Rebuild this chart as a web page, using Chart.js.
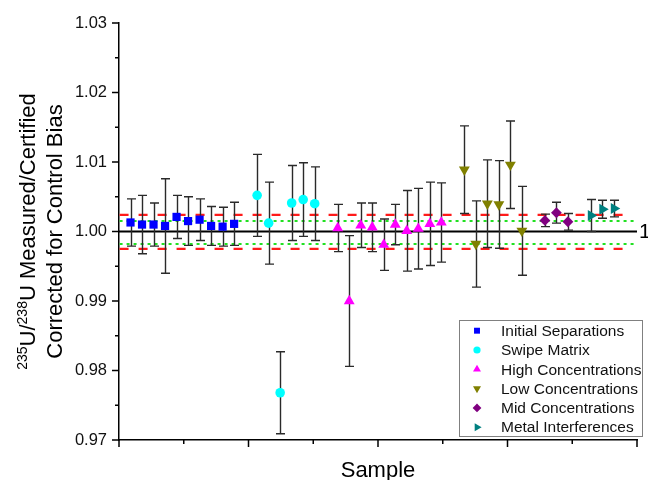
<!DOCTYPE html>
<html>
<head>
<meta charset="utf-8">
<script src="https://cdn.jsdelivr.net/npm/chart.js@4.4.0/dist/chart.umd.min.js"></script>
<style>
  html, body { margin: 0; padding: 0; background: #fff; }
</style>
</head>
<body>
<canvas id="c" width="648" height="480"></canvas>
<script>
  // series names (legend order)
  const seriesNames = [
    "Initial Separations",
    "Swipe Matrix",
    "High Concentrations",
    "Low Concentrations",
    "Mid Concentrations",
    "Metal Interferences",
  ];

  // sample number, ratio, +/- uncertainty for each group
  const initialSample = [1, 2, 3, 4, 5, 6, 7, 8, 9, 10];
  const initialRatio = [1.0013, 1.001, 1.001, 1.0008, 1.0021, 1.0015, 1.0017, 1.0008, 1.0007, 1.0011];
  const initialErr = [0.0034, 0.0042, 0.0031, 0.0068, 0.0031, 0.0035, 0.003, 0.0028, 0.0028, 0.0031];

  const swipeSample = [12, 13, 14, 15, 16, 17];
  const swipeRatio = [1.0052, 1.0012, 0.9768, 1.0041, 1.0046, 1.004];
  const swipeErr = [0.0059, 0.0059, 0.0059, 0.0054, 0.0053, 0.0053];

  const highSample = [19, 20, 21, 22, 23, 24, 25, 26, 27, 28];
  const highRatio = [1.0005, 0.99, 1.0009, 1.0006, 0.9981, 1.001, 1.0001, 1.0004, 1.0011, 1.0013];
  const highErr = [0.0034, 0.0094, 0.0032, 0.0035, 0.0037, 0.0029, 0.0058, 0.0058, 0.006, 0.0057];

  const lowSample = [30, 31, 32, 33, 34, 35];
  const lowRatio = [1.0089, 0.9982, 1.004, 1.0039, 1.0096, 1.0001];
  const lowErr = [0.0063, 0.0062, 0.0063, 0.0063, 0.0063, 0.0064];

  const midSample = [37, 38, 39];
  const midRatio = [1.0016, 1.0027, 1.0014];
  const midErr = [0.0009, 0.0015, 0.0012];

  const metalSample = [41, 42, 43];
  const metalRatio = [1.0023, 1.0032, 1.0033];
  const metalErr = [0.0023, 0.0013, 0.0012];

  // axes
  const yTicks = [0.97, 0.98, 0.99, 1.0, 1.01, 1.02, 1.03];
  const yMinorTicks = [0.975, 0.985, 0.995, 1.005, 1.015, 1.025];
  const xMajorTicks = [0, 11.25, 22.5, 33.75, 45];
  const xMinorTicks = [5.625, 16.875, 28.125, 39.375];

  // reference levels
  const unityLevel = 1.0;
  const redLimits = [1.0024, 0.9975];
  const greenLimits = [1.0015, 0.9982];

  const FONT = "'Liberation Sans', Arial, Helvetica, sans-serif";

  const groups = [
    { xs: initialSample, ys: initialRatio, err: initialErr, color: "#0000ff", style: "rect", rot: 0, r: 5.8, lr: 4.2 },
    { xs: swipeSample, ys: swipeRatio, err: swipeErr, color: "#00ffff", style: "circle", rot: 0, r: 4.8, lr: 3.6 },
    { xs: highSample, ys: highRatio, err: highErr, color: "#ff00ff", style: "triangle", rot: 0, r: 6.3, lr: 4.6 },
    { xs: lowSample, ys: lowRatio, err: lowErr, color: "#808000", style: "triangle", rot: 180, r: 6.3, lr: 4.6 },
    { xs: midSample, ys: midRatio, err: midErr, color: "#800080", style: "rectRot", rot: 0, r: 5.4, lr: 4.4 },
    { xs: metalSample, ys: metalRatio, err: metalErr, color: "#008080", style: "triangle", rot: 90, r: 6.3, lr: 4.6 },
  ];

  const datasets = groups.map((g, i) => ({
    label: seriesNames[i],
    data: g.xs.map((x, k) => ({ x, y: g.ys[k] })),
    errs: g.err,
    pointStyle: g.style,
    rotation: g.rot,
    pointRadius: g.r,
    pointHoverRadius: g.r,
    backgroundColor: g.color,
    borderColor: g.color,
    borderWidth: 0,
    showLine: false,
  }));

  const hLine = (chart, x0, y0, x1, color, width, dash) => {
    const y = chart.scales.y.getPixelForValue(y0);
    const x = chart.scales.x;
    const c = chart.ctx;
    c.save();
    c.strokeStyle = color;
    c.lineWidth = width;
    c.setLineDash(dash);
    c.beginPath();
    c.moveTo(x.getPixelForValue(x0), y);
    c.lineTo(x.getPixelForValue(x1), y);
    c.stroke();
    c.restore();
  };

  const decorations = {
    id: "decorations",
    beforeDatasetsDraw(chart) {
      redLimits.forEach((v) => hLine(chart, 0.05, v, 44.3, "#ff1a1a", 2.2, [9, 10]));
      greenLimits.forEach((v) => hLine(chart, 0.05, v, 44.9, "#22e022", 2, [3, 4]));
      hLine(chart, 0, unityLevel, 45, "#000", 2, []);

      // error bars
      const { x, y } = chart.scales;
      const c = chart.ctx;
      c.save();
      c.strokeStyle = "#2a2a2a";
      c.lineWidth = 1.4;
      chart.data.datasets.forEach((ds) => {
        ds.data.forEach((p, k) => {
          const e = ds.errs[k];
          const px = Math.round(x.getPixelForValue(p.x)) + 0.5;
          const top = y.getPixelForValue(p.y + e);
          const bot = y.getPixelForValue(p.y - e);
          c.beginPath();
          c.moveTo(px, top);
          c.lineTo(px, bot);
          c.moveTo(px - 4.5, top);
          c.lineTo(px + 4.5, top);
          c.moveTo(px - 4.5, bot);
          c.lineTo(px + 4.5, bot);
          c.stroke();
        });
      });
      c.restore();
    },
    afterDraw(chart) {
      const { x, y } = chart.scales;
      const c = chart.ctx;
      const area = chart.chartArea;
      c.save();
      c.strokeStyle = "#000";
      c.lineWidth = 1.5;
      c.beginPath();
      yTicks.forEach((v) => {
        const py = y.getPixelForValue(v);
        c.moveTo(area.left, py);
        c.lineTo(area.left - 7, py);
      });
      yMinorTicks.forEach((v) => {
        const py = y.getPixelForValue(v);
        c.moveTo(area.left, py);
        c.lineTo(area.left - 4, py);
      });
      xMajorTicks.forEach((v) => {
        const px = x.getPixelForValue(v);
        c.moveTo(px, area.bottom);
        c.lineTo(px, area.bottom + 7);
      });
      xMinorTicks.forEach((v) => {
        const px = x.getPixelForValue(v);
        c.moveTo(px, area.bottom);
        c.lineTo(px, area.bottom + 4);
      });
      c.stroke();

      // "1" label at end of unity line
      c.fillStyle = "#000";
      c.font = `21px ${FONT}`;
      c.textAlign = "left";
      c.textBaseline = "middle";
      c.fillText("1", area.right + 2, y.getPixelForValue(unityLevel) + 1);

      // x title
      c.font = `22px ${FONT}`;
      c.textAlign = "center";
      c.textBaseline = "alphabetic";
      c.fillText("Sample", (area.left + area.right) / 2, 477);

      // y title (two lines, rotated, with superscripts)
      const cy = (area.top + area.bottom) / 2;
      c.translate(0, cy);
      c.rotate(-Math.PI / 2);
      const big = `22px ${FONT}`;
      const sup = `14px ${FONT}`;
      const parts = [
        ["235", sup, -8],
        ["U/", big, 0],
        ["238", sup, -8],
        ["U Measured/Certified", big, 0],
      ];
      let w = 0;
      parts.forEach(([t, f]) => {
        c.font = f;
        w += c.measureText(t).width;
      });
      let tx = -w / 2;
      c.textAlign = "left";
      parts.forEach(([t, f, dy]) => {
        c.font = f;
        c.fillText(t, tx, 35 + dy);
        tx += c.measureText(t).width;
      });
      c.font = big;
      c.textAlign = "center";
      c.fillText("Corrected for Control Bias", 0, 62);
      c.setTransform(1, 0, 0, 1, 0, 0);

      // legend box
      const lx = 459.5, ly = 320.5, lw = 183, lh = 116;
      c.fillStyle = "#fff";
      c.fillRect(lx, ly, lw, lh);
      c.strokeStyle = "#808080";
      c.lineWidth = 1;
      c.strokeRect(lx, ly, lw, lh);
      c.font = `15.5px ${FONT}`;
      c.textAlign = "left";
      c.textBaseline = "middle";
      groups.forEach((g, i) => {
        const ry = 330.7 + i * 19.3;
        c.fillStyle = g.color;
        Chart.helpers.drawPoint(c, { pointStyle: g.style, rotation: g.rot, radius: g.lr, borderWidth: 0 }, 477, ry);
        c.fillStyle = "#111";
        c.fillText(seriesNames[i], 501, ry + 1);
      });
      c.restore();
    },
  };

  new Chart(document.getElementById("c"), {
    type: "scatter",
    data: { datasets },
    options: {
      responsive: false,
      animation: false,
      devicePixelRatio: 1,
      layout: { padding: { left: 0, right: 11, top: 23, bottom: 0 } },
      plugins: { legend: { display: false }, tooltip: { enabled: false } },
      scales: {
        x: {
          type: "linear",
          min: 0,
          max: 45,
          afterFit: (s) => { s.height = 40; },
          ticks: { display: false },
          grid: { display: true, drawOnChartArea: false, drawTicks: false },
          border: { display: true, color: "#000", width: 1.5 },
        },
        y: {
          type: "linear",
          min: 0.97,
          max: 1.03,
          afterFit: (s) => { s.width = 119; },
          afterBuildTicks: (s) => { s.ticks = yTicks.map((v) => ({ value: v })); },
          ticks: {
            padding: 12,
            color: "#111",
            font: { family: FONT, size: 16.5 },
            callback: (v) => Number(v).toFixed(2),
          },
          grid: { display: true, drawOnChartArea: false, drawTicks: false },
          border: { display: true, color: "#000", width: 1.5 },
        },
      },
    },
    plugins: [decorations],
  });
</script>
</body>
</html>
